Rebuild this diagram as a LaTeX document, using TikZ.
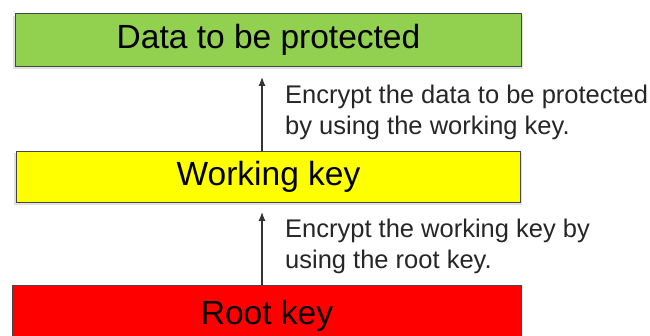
\documentclass[tikz,border=0pt]{standalone}
\usepackage{fontspec}
\setmainfont{Liberation Sans}
\usetikzlibrary{arrows.meta}
\definecolor{boxgreen}{RGB}{146,208,80}
\definecolor{boxyellow}{RGB}{255,255,0}
\definecolor{boxred}{RGB}{255,0,0}
\definecolor{edgegray}{RGB}{70,70,70}
\tikzset{
  layer/.style={draw=edgegray, line width=1pt, inner sep=0pt, anchor=north west,
    font=\fontsize{33.5}{40}\selectfont, text=black},
  shade/.style={fill=black!12, draw=none},
  note/.style={anchor=west, align=left, inner sep=0pt,
    font=\fontsize{25.5}{31}\selectfont, text=black!85},
  uparrow/.style={draw=black!80, line width=1.2pt, -{Latex[length=9pt,width=7pt]}}
}
\begin{document}
\begin{tikzpicture}[x=1pt,y=-1pt]
\useasboundingbox[fill=white] (0,0) rectangle (650,336);
% soft shadows under the layers
\fill[shade] (13,16) rectangle (523,69);
\fill[shade] (14,153) rectangle (522,205);
% layers
\node[layer, fill=boxgreen, minimum width=506pt, minimum height=53pt] (data) at (15,13) {Data to be protected};
\node[layer, fill=boxyellow, minimum width=504pt, minimum height=51pt] (work) at (16,151) {Working key};
\node[layer, fill=boxred, minimum width=509pt, minimum height=60pt] (root) at (12,285) {Root key};
% arrow end points
\coordinate (t1) at (262,77);
\coordinate (t2) at (262,212);
\draw[uparrow] (work.north -| t1) -- (t1);
\draw[uparrow] (root.north -| t2) -- (t2);
% notes
\node[note] (n1) at (285,112) {Encrypt the data to be protected\\by using the working key.};
\node[note] (n2) at (285,246) {Encrypt the working key by\\using the root key.};
\end{tikzpicture}
\end{document}
